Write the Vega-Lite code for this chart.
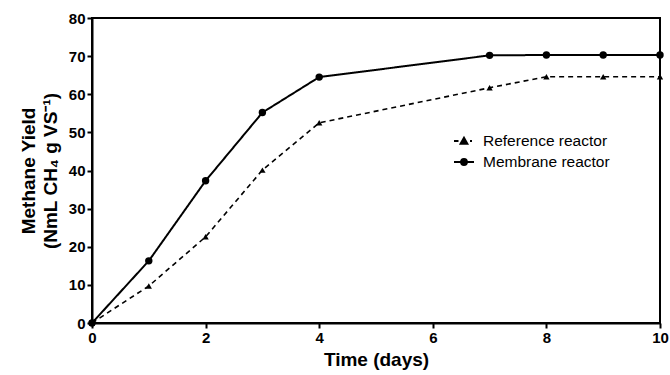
{
  "$schema": "https://vega.github.io/schema/vega-lite/v6.json",
  "autosize": "none",
  "width": 568,
  "height": 305,
  "padding": {"left": 92, "top": 18, "right": 10, "bottom": 52},
  "background": "white",
  "config": {
    "view": {"stroke": "black", "strokeWidth": 2},
    "font": "Liberation Sans",
    "axis": {
      "grid": false,
      "domainColor": "black",
      "domainWidth": 2,
      "tickColor": "black",
      "tickWidth": 2,
      "tickSize": 5,
      "labelColor": "black",
      "labelFont": "Liberation Sans",
      "labelFontSize": 15,
      "labelFontWeight": "bold",
      "titleColor": "black",
      "titleFont": "Liberation Sans",
      "titleFontSize": 19,
      "titleFontWeight": "bold"
    },
    "legend": {
      "labelFont": "Liberation Sans",
      "labelFontSize": 15.5,
      "labelColor": "black"
    }
  },
  "data": {
    "values": [
      {"day": 0, "yield": 0, "series": "Membrane reactor"},
      {"day": 1, "yield": 16.3, "series": "Membrane reactor"},
      {"day": 2, "yield": 37.3, "series": "Membrane reactor"},
      {"day": 3, "yield": 55.2, "series": "Membrane reactor"},
      {"day": 4, "yield": 64.5, "series": "Membrane reactor"},
      {"day": 7, "yield": 70.2, "series": "Membrane reactor"},
      {"day": 8, "yield": 70.3, "series": "Membrane reactor"},
      {"day": 9, "yield": 70.3, "series": "Membrane reactor"},
      {"day": 10, "yield": 70.3, "series": "Membrane reactor"},
      {"day": 0, "yield": 0, "series": "Reference reactor"},
      {"day": 1, "yield": 9.7, "series": "Reference reactor"},
      {"day": 2, "yield": 22.6, "series": "Reference reactor"},
      {"day": 3, "yield": 40.1, "series": "Reference reactor"},
      {"day": 4, "yield": 52.5, "series": "Reference reactor"},
      {"day": 7, "yield": 61.7, "series": "Reference reactor"},
      {"day": 8, "yield": 64.6, "series": "Reference reactor"},
      {"day": 9, "yield": 64.6, "series": "Reference reactor"},
      {"day": 10, "yield": 64.6, "series": "Reference reactor"}
    ]
  },
  "encoding": {
    "x": {
      "field": "day", "type": "quantitative",
      "scale": {"domain": [0, 10], "nice": false},
      "axis": {"values": [0, 2, 4, 6, 8, 10], "title": "Time  (days)", "labelPadding": 2, "titlePadding": 5, "labelFlush": false}
    },
    "y": {
      "field": "yield", "type": "quantitative",
      "scale": {"domain": [0, 80], "nice": false},
      "axis": {"values": [0, 10, 20, 30, 40, 50, 60, 70, 80], "title": ["Methane Yield", "(NmL CH₄ g VS⁻¹)"], "labelPadding": 2, "titlePadding": 8, "titleLineHeight": 22}
    }
  },
  "layer": [
    {
      "mark": {"type": "line", "color": "black"},
      "encoding": {
        "strokeDash": {
          "field": "series", "type": "nominal",
          "scale": {"domain": ["Membrane reactor", "Reference reactor"], "range": [[1, 0], [5, 4]]},
          "legend": null
        },
        "strokeWidth": {
          "field": "series", "type": "nominal",
          "scale": {"domain": ["Membrane reactor", "Reference reactor"], "range": [2, 1.6]},
          "legend": null
        }
      }
    },
    {
      "transform": [{"filter": "datum.series === 'Membrane reactor'"}],
      "mark": {"type": "point", "filled": true, "color": "black", "opacity": 1, "shape": "circle", "size": 55}
    },
    {
      "transform": [{"filter": "datum.series === 'Reference reactor'"}],
      "mark": {"type": "point", "filled": true, "color": "black", "opacity": 1, "shape": "triangle-up", "size": 40}
    },
    {
      "mark": {"type": "point", "filled": false, "color": "black", "opacity": 0, "strokeWidth": 1.8},
      "encoding": {
        "shape": {
          "field": "series", "type": "nominal",
          "scale": {
            "domain": ["Reference reactor", "Membrane reactor"],
            "range": [
              "M-1,0H-0.55M-0.35,0.28L0,-0.35L0.35,0.28ZM-0.15,0.15L0,-0.1L0.15,0.15ZM0.6,0H0.8",
              "M-1,0H1M0.3,0A0.3,0.3,0,1,1,-0.3,0A0.3,0.3,0,1,1,0.3,0ZM0.12,0A0.12,0.12,0,1,1,-0.12,0A0.12,0.12,0,1,1,0.12,0Z"
            ]
          },
          "legend": {
            "title": null,
            "orient": "none",
            "legendX": 361,
            "legendY": 112,
            "padding": 0,
            "symbolSize": 400,
            "symbolOpacity": 1,
            "symbolFillColor": "black",
            "symbolStrokeColor": "black",
            "symbolStrokeWidth": 1.8,
            "labelOffset": 8,
            "rowPadding": 1
          }
        }
      }
    }
  ]
}
